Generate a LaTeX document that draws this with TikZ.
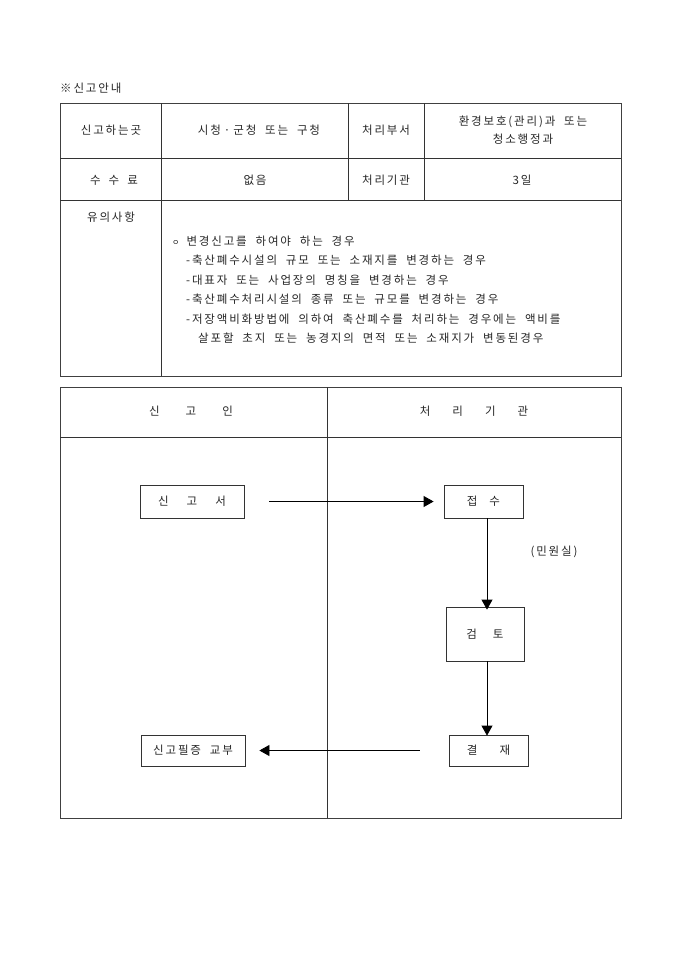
\documentclass[tikz,border=0pt]{standalone}
\usepackage{fontspec}
\setmainfont{Noto Sans CJK KR}[LetterSpace=16,WordSpace=2]
\usetikzlibrary{arrows.meta}
\begin{document}
\begin{tikzpicture}[x=1pt,y=-1pt,
  font=\fontsize{11.5}{13.5}\selectfont,
  frame/.style={draw=black!75,line width=0.9pt},
  grid/.style={draw=black!80,line width=0.7pt},
  txt/.style={inner sep=0pt,text=black!85},
  ltxt/.style={inner sep=0pt,anchor=west,text=black!85},
  flowbox/.style={draw=black!80,line width=0.8pt,inner sep=0pt,text=black!85},
  flow/.style={draw=black,line width=0.8pt,-{Triangle[length=10pt,width=11pt]}}]
\useasboundingbox (0,0) rectangle (680,962);
% title
\node[ltxt] (title) at (60,88) {※신고안내};
% upper table
\draw[frame] (60,103) rectangle (621,376);
\draw[grid] (60,158) -- (621,158);
\draw[grid] (60,200) -- (621,200);
\draw[grid] (161,103) -- (161,376);
\draw[grid] (348,103) -- (348,200);
\draw[grid] (424,103) -- (424,200);
\node[txt] (c11) at (111,130) {신고하는곳};
\node[txt] (c12) at (259,130) {시청\hspace{3pt}·\hspace{3pt}군청 또는 구청};
\node[txt] (c13) at (386,130) {처리부서};
\node[txt,align=center] (c14) at (523,130) {환경보호(관리)과 또는\\[4pt]청소행정과};
\node[txt] (c21) at (114,180) {수\hspace{0.7em}수\hspace{0.7em}료};
\node[txt] (c22) at (255,180) {없음};
\node[txt] (c23) at (386,180) {처리기관};
\node[txt] (c24) at (522,180) {3일};
\node[txt] (c31) at (111,217) {유의사항};
\node[ltxt] (n1) at (172,241) {{\fontsize{8}{8}\selectfont ㅇ}\hspace{7pt}변경신고를 하여야 하는 경우};
\node[ltxt] (n2) at (186,260) {-축산폐수시설의 규모 또는 소재지를 변경하는 경우};
\node[ltxt] (n3) at (186,280) {-대표자 또는 사업장의 명칭을 변경하는 경우};
\node[ltxt] (n4) at (186,299) {-축산폐수처리시설의 종류 또는 규모를 변경하는 경우};
\node[ltxt] (n5) at (186,319) {-저장액비화방법에 의하여 축산폐수를 처리하는 경우에는 액비를};
\node[ltxt] (n6) at (198,338) {살포할 초지 또는 농경지의 면적 또는 소재지가 변동된경우};
% lower table
\draw[frame] (60,387) rectangle (621,818);
\draw[grid] (60,437) -- (621,437);
\draw[grid] (327,387) -- (327,818);
\node[txt] (h1) at (191,411) {신\hspace{26pt}고\hspace{26pt}인};
\node[txt] (h2) at (474,411) {처\hspace{22pt}리\hspace{22pt}기\hspace{22pt}관};
% flow boxes
\node[flowbox,minimum width=104pt,minimum height=33pt] (b1) at (192,501.5) {신\hspace{18pt}고\hspace{18pt}서};
\node[flowbox,minimum width=79pt,minimum height=33pt] (b2) at (483.5,501.5) {접\hspace{12pt}수};
\node[flowbox,minimum width=78pt,minimum height=54pt] (b3) at (485,634) {검\hspace{16pt}토};
\node[flowbox,minimum width=79pt,minimum height=31pt] (b4) at (488.5,750.5) {결\hspace{22pt}재};
\node[flowbox,minimum width=104pt,minimum height=31pt] (b5) at (193,750.5) {신고필증 교부};
\node[txt] (mw) at (554,552) {(민원실)};
% connectors
\draw[flow] ([xshift=25pt]b1.east) -- ([xshift=-10pt]b2.west);
\draw[flow] ([xshift=3.5pt]b2.south) -- ([xshift=2pt,yshift=-3pt]b3.north);
\draw[flow] ([xshift=2pt]b3.south) -- ([xshift=-1.5pt,yshift=-1pt]b4.north);
\draw[flow] ([xshift=-29pt]b4.west) -- ([xshift=14pt]b5.east);
\end{tikzpicture}
\end{document}
